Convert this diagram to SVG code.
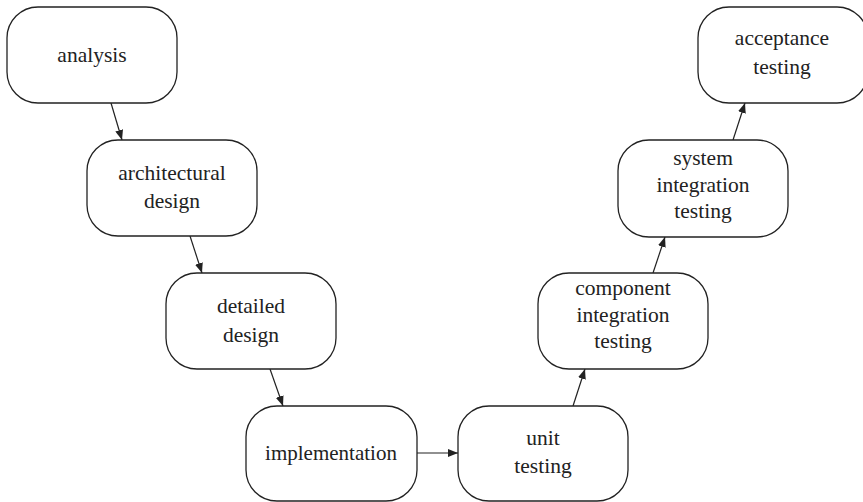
<svg xmlns="http://www.w3.org/2000/svg" width="863" height="502" viewBox="0 0 863 502">
<defs>
<marker id="ah" viewBox="0 0 10 8" refX="10" refY="4" markerWidth="10" markerHeight="8" markerUnits="userSpaceOnUse" orient="auto">
<path d="M0,0 L10,4 L0,8 Z" fill="#222"/>
</marker>
</defs>
<rect width="863" height="502" fill="#fff"/>
<g id="connectors" stroke="#222" stroke-width="1.2" fill="none" marker-end="url(#ah)">
<line x1="111" y1="103" x2="122" y2="140"/>
<line x1="190" y1="236" x2="202" y2="273"/>
<line x1="270" y1="369" x2="283" y2="406"/>
<line x1="417" y1="453" x2="458" y2="453"/>
<line x1="573" y1="406" x2="585" y2="369"/>
<line x1="653" y1="273" x2="665" y2="237"/>
<line x1="733" y1="140" x2="745" y2="103"/>
</g>
<g id="analysis">
<rect x="7" y="7" width="170" height="96" rx="31" fill="#fff" stroke="#222" stroke-width="1.3"/>
<text x="92" y="62" style="font-family:'Liberation Serif','Times New Roman',serif;font-size:21.5px;text-anchor:middle;fill:#222">analysis</text>
</g>
<g id="architectural-design">
<rect x="87" y="140" width="170" height="96" rx="31" fill="#fff" stroke="#222" stroke-width="1.3"/>
<text x="172" y="180" style="font-family:'Liberation Serif','Times New Roman',serif;font-size:21.5px;text-anchor:middle;fill:#222">architectural</text>
<text x="172" y="208" style="font-family:'Liberation Serif','Times New Roman',serif;font-size:21.5px;text-anchor:middle;fill:#222">design</text>
</g>
<g id="detailed-design">
<rect x="166" y="273" width="170" height="96" rx="31" fill="#fff" stroke="#222" stroke-width="1.3"/>
<text x="251" y="313" style="font-family:'Liberation Serif','Times New Roman',serif;font-size:21.5px;text-anchor:middle;fill:#222">detailed</text>
<text x="251" y="342" style="font-family:'Liberation Serif','Times New Roman',serif;font-size:21.5px;text-anchor:middle;fill:#222">design</text>
</g>
<g id="implementation">
<rect x="246" y="406" width="171" height="95" rx="31" fill="#fff" stroke="#222" stroke-width="1.3"/>
<text x="331" y="460" style="font-family:'Liberation Serif','Times New Roman',serif;font-size:21px;text-anchor:middle;fill:#222">implementation</text>
</g>
<g id="unit-testing">
<rect x="458" y="406" width="170" height="95" rx="31" fill="#fff" stroke="#222" stroke-width="1.3"/>
<text x="543" y="445" style="font-family:'Liberation Serif','Times New Roman',serif;font-size:21.5px;text-anchor:middle;fill:#222">unit</text>
<text x="543" y="473" style="font-family:'Liberation Serif','Times New Roman',serif;font-size:21.5px;text-anchor:middle;fill:#222">testing</text>
</g>
<g id="component-integration-testing">
<rect x="538" y="273" width="170" height="96" rx="31" fill="#fff" stroke="#222" stroke-width="1.3"/>
<text x="623" y="295" style="font-family:'Liberation Serif','Times New Roman',serif;font-size:21.5px;text-anchor:middle;fill:#222">component</text>
<text x="623" y="322" style="font-family:'Liberation Serif','Times New Roman',serif;font-size:21.5px;text-anchor:middle;fill:#222">integration</text>
<text x="623" y="348" style="font-family:'Liberation Serif','Times New Roman',serif;font-size:21.5px;text-anchor:middle;fill:#222">testing</text>
</g>
<g id="system-integration-testing">
<rect x="618" y="140" width="170" height="97" rx="31" fill="#fff" stroke="#222" stroke-width="1.3"/>
<text x="703" y="165" style="font-family:'Liberation Serif','Times New Roman',serif;font-size:21.5px;text-anchor:middle;fill:#222">system</text>
<text x="703" y="192" style="font-family:'Liberation Serif','Times New Roman',serif;font-size:21.5px;text-anchor:middle;fill:#222">integration</text>
<text x="703" y="218" style="font-family:'Liberation Serif','Times New Roman',serif;font-size:21.5px;text-anchor:middle;fill:#222">testing</text>
</g>
<g id="acceptance-testing">
<rect x="698" y="7" width="170" height="96" rx="31" fill="#fff" stroke="#222" stroke-width="1.3"/>
<text x="782" y="45" style="font-family:'Liberation Serif','Times New Roman',serif;font-size:21.5px;text-anchor:middle;fill:#222">acceptance</text>
<text x="782" y="74" style="font-family:'Liberation Serif','Times New Roman',serif;font-size:21.5px;text-anchor:middle;fill:#222">testing</text>
</g>
</svg>
